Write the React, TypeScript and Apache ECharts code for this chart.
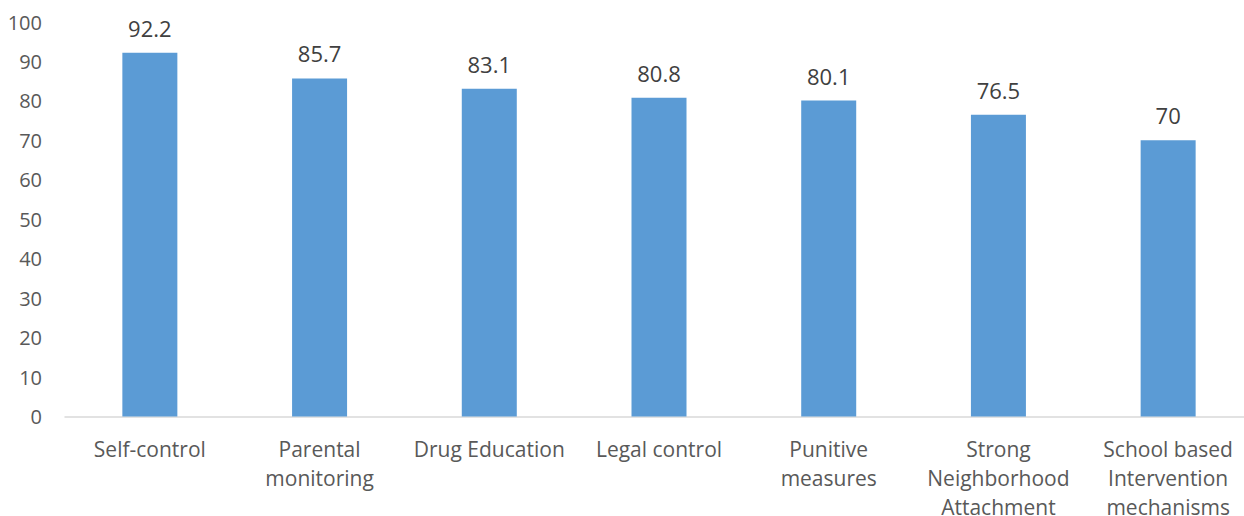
import React, { useEffect, useRef } from "react";
import * as echarts from "echarts";

const categories = [
  "Self-control",
  "Parental monitoring",
  "Drug Education",
  "Legal control",
  "Punitive measures",
  "Strong Neighborhood Attachment",
  "School based Intervention mechanisms",
];
const axisLabels = [
  "Self-control",
  "Parental\nmonitoring",
  "Drug Education",
  "Legal control",
  "Punitive\nmeasures",
  "Strong\nNeighborhood\nAttachment",
  "School based\nIntervention\nmechanisms",
];
const values = [92.2, 85.7, 83.1, 80.8, 80.1, 76.5, 70];

const FONT = "'Open Sans', sans-serif";

export default function App() {
  const ref = useRef<HTMLDivElement>(null);
  useEffect(() => {
    if (!ref.current) return;
    const chart = echarts.init(ref.current, undefined, { renderer: "svg" });
    chart.setOption({
      animation: false,
      grid: {
        left: 65,
        right: -9,
        top: 22,
        bottom: 99.5,
        containLabel: false,
        outerBoundsMode: "none",
      },
      xAxis: {
        type: "category",
        data: categories,
        axisLine: { lineStyle: { color: "#d9d9d9", width: 1.5 } },
        axisTick: { show: false },
        axisLabel: {
          interval: 0,
          margin: 18,
          color: "#595959",
          fontSize: 21,
          fontFamily: FONT,
          lineHeight: 29,
          formatter: (_v: string, i: number) => axisLabels[i],
        },
      },
      yAxis: {
        type: "value",
        min: 0,
        max: 100,
        interval: 10,
        splitLine: { show: false },
        axisLine: { show: false },
        axisTick: { show: false },
        axisLabel: { color: "#595959", fontSize: 20, fontFamily: FONT, margin: 23 },
      },
      series: [
        {
          type: "bar",
          data: values,
          barWidth: 55,
          itemStyle: { color: "#5B9BD5" },
          label: {
            show: true,
            position: "top",
            distance: 14,
            color: "#404040",
            fontSize: 22,
            fontFamily: FONT,
          },
        },
      ],
    });
    return () => chart.dispose();
  }, []);
  return (
    <div
      ref={ref}
      style={{ position: "fixed", left: 0, top: 0, width: 1244, height: 516, background: "#fff" }}
    />
  );
}
